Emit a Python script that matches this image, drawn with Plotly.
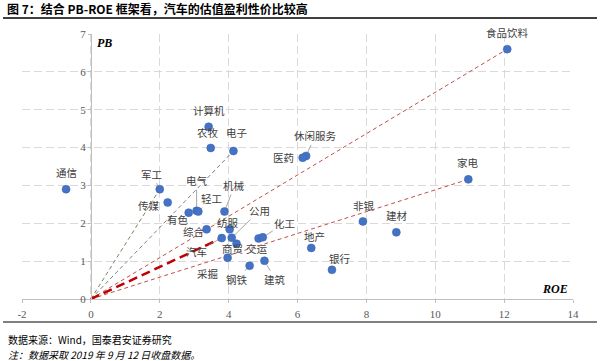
import plotly.graph_objects as go

# ---- data ----
industries = ["食品饮料", "家电", "通信", "计算机", "农牧", "电子", "休闲服务", "医药",
              "军工", "传媒", "有色", "电气", "轻工", "机械", "纺服", "综合", "汽车",
              "公用", "商贸", "交运", "化工", "采掘", "钢铁", "建筑", "地产", "银行",
              "非银", "建材"]
roe = [12.09, 10.96, -0.72, 3.42, 3.48, 4.14, 6.25, 6.15,
       2.00, 2.23, 2.84, 3.07, 3.12, 3.88, 4.03, 3.36, 3.80,
       4.09, 4.23, 4.87, 4.99, 3.97, 4.61, 5.04, 6.40, 7.00,
       7.90, 8.87]
pb = [6.60, 3.16, 2.90, 4.55, 3.99, 3.91, 3.78, 3.73,
      2.90, 2.55, 2.28, 2.33, 2.31, 2.31, 1.84, 1.84, 1.61,
      1.62, 1.46, 1.60, 1.63, 1.09, 0.88, 1.01, 1.35, 0.77,
      2.05, 1.76]
x_ticks = [-2, 0, 2, 4, 6, 8, 10, 12, 14]
x_tick_labels = ["-2", "0", "2", "4", "6", "8", "10", "12", "14"]
y_ticks = [0, 1, 2, 3, 4, 5, 6, 7]

# reference rays from the origin: (target industry, colour, width, dash)
rays = [("食品饮料", "#c0504d", 1, "4px,3px"),
        ("家电", "#c0504d", 1, "4px,3px"),
        ("电子", "#7f7f7f", 1, "4px,3px"),
        ("军工", "#6f8a62", 1, "4px,3px"),
        ("汽车", "#c00000", 2.5, "9px,5px")]

# label placement (pixel offsets from point) and whether a leader line is drawn
label_pos = {
    "食品饮料": (0, -17, False), "家电": (0, -17, False), "通信": (0, -17, False),
    "计算机": (0, -16, False), "农牧": (-3, -15, False), "电子": (3, -18, False),
    "休闲服务": (9, -20, True), "医药": (-19, 0, False), "军工": (-8, -15, True),
    "传媒": (-19, 3, False), "有色": (-11, 7, False), "电气": (0, -30, True),
    "轻工": (13, -13, True), "机械": (10, -26, True), "纺服": (-2, -7, False),
    "综合": (-13, 2, False), "汽车": (-25, 13, True), "公用": (28, -27, True),
    "商贸": (-4, 5, False), "交运": (-2, 10, False), "化工": (22, -14, True),
    "采掘": (-20, 16, False), "钢铁": (-13, 14, True), "建筑": (11, 19, True),
    "地产": (3, -11, False), "银行": (8, -11, False), "非银": (1, -16, False),
    "建材": (1, -17, False),
}

W, H = 600, 361
L, R, T, B = 22, 27, 34, 62
pw, ph = W - L - R, H - T - B


def px(xpix):
    return (xpix - L) / pw


def py(ypix):
    return (H - B - ypix) / ph


fig = go.Figure()

idx = {n: i for i, n in enumerate(industries)}
for name, col, wd, dash in rays:
    i = idx[name]
    fig.add_trace(go.Scatter(
        x=[0, roe[i]], y=[0, pb[i]], mode="lines",
        line=dict(color=col, width=wd, dash=dash),
        hoverinfo="skip", showlegend=False))

fig.add_trace(go.Scatter(
    x=roe, y=pb, mode="markers", text=industries,
    marker=dict(color="#4472C4", size=8, line=dict(color="#3b64ad", width=0.5)),
    showlegend=False, cliponaxis=False))

label_font = dict(family="Noto Sans CJK SC", size=10.5, color="#404040")
for n, xv, yv in zip(industries, roe, pb):
    dx, dy, lead = label_pos[n]
    if lead:
        fig.add_annotation(x=xv, y=yv, text=n, showarrow=True, ax=dx, ay=dy,
                           arrowhead=0, arrowwidth=0.7, arrowcolor="#7f7f7f",
                           standoff=4, font=label_font)
    else:
        fig.add_annotation(x=xv, y=yv, text=n, showarrow=False,
                           xshift=dx, yshift=-dy, font=label_font)

fig.add_annotation(x=0, y=7, text="<b><i>PB</i></b>", showarrow=False,
                   xanchor="left", yanchor="middle", xshift=4, yshift=-9,
                   font=dict(family="Liberation Serif", size=12, color="#000000"))
fig.add_annotation(x=14, y=0, text="<b><i>ROE</i></b>", showarrow=False,
                   xanchor="right", yanchor="middle", xshift=-3, yshift=10,
                   font=dict(family="Liberation Serif", size=12, color="#000000"))

# title, rules and footnotes
fig.add_annotation(xref="paper", yref="paper", x=px(5), y=py(8),
                   text="<b>图 7：结合 PB-ROE 框架看，汽车的估值盈利性价比较高</b>",
                   showarrow=False, xanchor="left", yanchor="middle",
                   font=dict(family="Noto Sans CJK SC", size=12, color="#000000"))
fig.add_shape(type="line", xref="paper", yref="paper", x0=px(3), x1=px(597),
              y0=py(18), y1=py(18), line=dict(color="#000000", width=1.5))
fig.add_shape(type="line", xref="paper", yref="paper", x0=px(3), x1=px(597),
              y0=py(322), y1=py(322), line=dict(color="#000000", width=1))
fig.add_annotation(xref="paper", yref="paper", x=px(6), y=py(339),
                   text="数据来源：Wind，国泰君安证券研究",
                   showarrow=False, xanchor="left", yanchor="middle",
                   font=dict(family="Noto Sans CJK SC", size=10, color="#000000"))
fig.add_annotation(xref="paper", yref="paper", x=px(6), y=py(354),
                   text="<i>注：数据采取 2019 年 9 月 12 日收盘数据。</i>",
                   showarrow=False, xanchor="left", yanchor="middle",
                   font=dict(family="Noto Sans CJK SC", size=10, color="#000000"))

fig.update_layout(
    width=W, height=H, margin=dict(l=L, r=R, t=T, b=B),
    paper_bgcolor="white", plot_bgcolor="white",
    xaxis=dict(range=[-2, 14], tickvals=x_ticks, ticktext=x_tick_labels,
               showgrid=True,
               gridcolor="#d9d9d9", griddash="8px,4px", gridwidth=1,
               zeroline=False, showline=True, linecolor="#bfbfbf", linewidth=1,
               ticks="outside", ticklen=3, tickcolor="#bfbfbf",
               ticklabelstandoff=2,
               tickfont=dict(family="Liberation Serif", size=11, color="#595959")),
    yaxis=dict(range=[0, 7], tickvals=y_ticks, showgrid=True,
               gridcolor="#d9d9d9", griddash="8px,4px", gridwidth=1,
               zeroline=False, showline=True, linecolor="#bfbfbf", linewidth=1,
               anchor="free", position=0.125,
               ticks="outside", ticklen=3, tickcolor="#bfbfbf",
               tickfont=dict(family="Liberation Serif", size=11, color="#595959")),
)

fig.write_html("out.html", config={"displayModeBar": False},
               post_script="document.body.style.margin='0';document.body.style.padding='0';document.body.style.overflow='hidden';")
